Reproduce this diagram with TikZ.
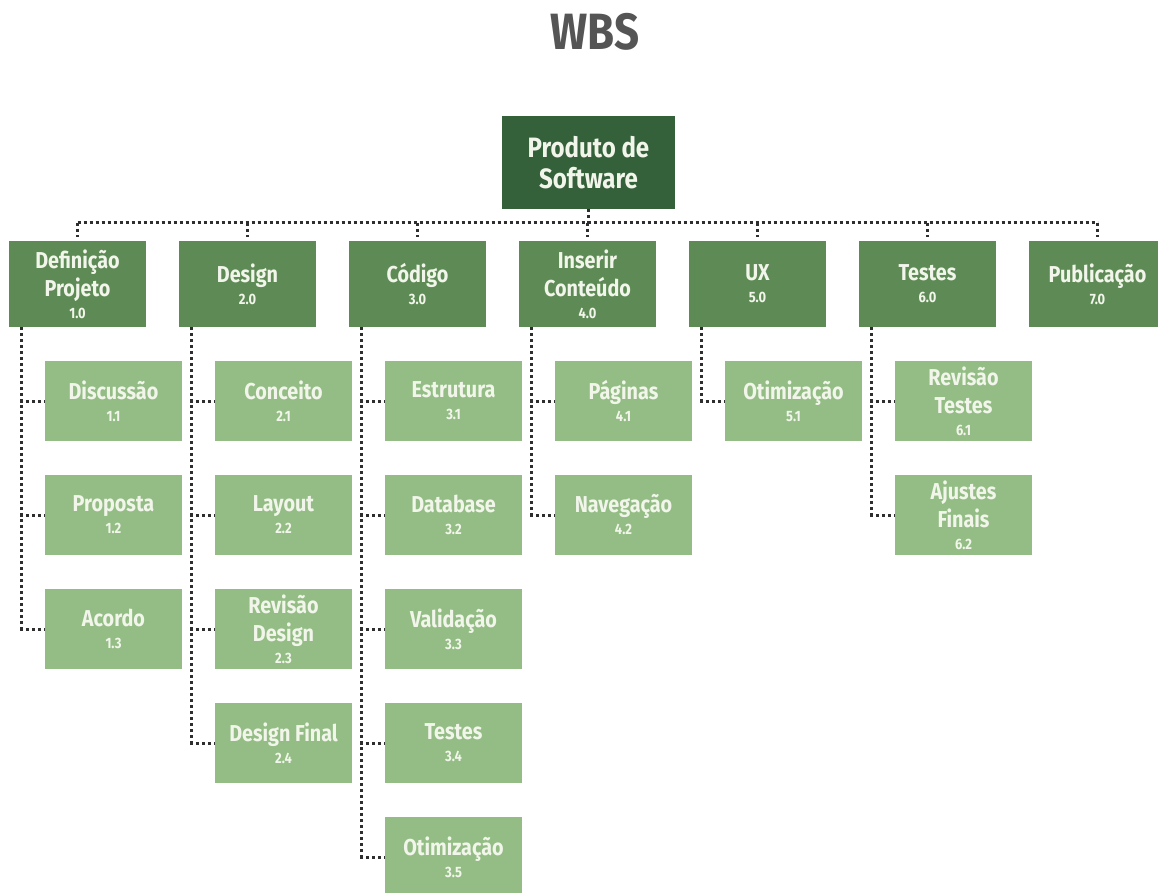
\documentclass[tikz,border=0pt]{standalone}
\usepackage{fontspec}
\setmainfont{Fira Sans}[FakeStretch=0.86]

\definecolor{rootgreen}{HTML}{34603A}
\definecolor{midgreen}{HTML}{5E8B55}
\definecolor{leafgreen}{HTML}{93BD85}
\definecolor{boxtext}{HTML}{F1F5EA}
\definecolor{dotgrey}{HTML}{2E2E2E}
\definecolor{titlegrey}{HTML}{555555}

% small code number under each work package name
\newcommand\wbsno[1]{{\fontsize{15}{15}\selectfont #1}}

\begin{document}
\begin{tikzpicture}[x=1pt,y=-1pt,
  box/.style={inner sep=0pt, align=center, text=boxtext,
    font=\bfseries\fontsize{23}{28}\selectfont},
  rootbox/.style={box, fill=rootgreen, minimum width=173pt, minimum height=93pt,
    font=\bfseries\fontsize{28}{31}\selectfont},
  phase/.style={box, fill=midgreen, minimum width=137pt, minimum height=86pt},
  task/.style={box, fill=leafgreen, minimum width=137pt, minimum height=80pt},
  conn/.style={draw=dotgrey, line width=3pt, dash pattern=on 3pt off 3pt},
  title/.style={text=titlegrey, font=\bfseries\fontsize{51}{51}\selectfont, anchor=base}]

\useasboundingbox (0,0) rectangle (1158,893);
\fill[white] (0,0) rectangle (1158,893);
\clip (0,0) rectangle (1158,893);

\node[title] (wbs) at (595,50) {WBS};

% root
\node[rootbox] (root) at (588.5,162.5) {Produto de\\Software};

% level 1
\node[phase] (p1) at (77.5,284)  {Definição\\Projeto\\[-6pt]\wbsno{1.0}};
\node[phase] (p2) at (247.5,284) {Design\\[-6pt]\wbsno{2.0}};
\node[phase] (p3) at (417.5,284) {Código\\[-6pt]\wbsno{3.0}};
\node[phase] (p4) at (587.5,284) {Inserir\\Conteúdo\\[-6pt]\wbsno{4.0}};
\node[phase] (p5) at (757.5,284) {UX\\[-6pt]\wbsno{5.0}};
\node[phase] (p6) at (927.5,284) {Testes\\[-6pt]\wbsno{6.0}};
\node[phase] (p7) at (1097.5,284) {Publicação\\[-6pt]\wbsno{7.0}};

% level 2
\node[task] (c11) at (113.5,401) {Discussão\\[-6pt]\wbsno{1.1}};
\node[task] (c12) at (113.5,515) {Proposta\\[-6pt]\wbsno{1.2}};
\node[task] (c13) at (113.5,629) {Acordo\\[-6pt]\wbsno{1.3}};

\node[task] (c21) at (283.5,401) {Conceito\\[-6pt]\wbsno{2.1}};
\node[task] (c22) at (283.5,515) {Layout\\[-6pt]\wbsno{2.2}};
\node[task] (c23) at (283.5,629) {Revisão\\Design\\[-6pt]\wbsno{2.3}};
\node[task] (c24) at (283.5,743) {Design Final\\[-6pt]\wbsno{2.4}};

\node[task] (c31) at (453.5,401) {Estrutura\\[-6pt]\wbsno{3.1}};
\node[task] (c32) at (453.5,515) {Database\\[-6pt]\wbsno{3.2}};
\node[task] (c33) at (453.5,629) {Validação\\[-6pt]\wbsno{3.3}};
\node[task] (c34) at (453.5,743) {Testes\\[-6pt]\wbsno{3.4}};
\node[task] (c35) at (453.5,857) {Otimização\\[-6pt]\wbsno{3.5}};

\node[task] (c41) at (623.5,401) {Páginas\\[-6pt]\wbsno{4.1}};
\node[task] (c42) at (623.5,515) {Navegação\\[-6pt]\wbsno{4.2}};

\node[task] (c51) at (793.5,401) {Otimização\\[-6pt]\wbsno{5.1}};

\node[task] (c61) at (963.5,401) {Revisão\\Testes\\[-6pt]\wbsno{6.1}};
\node[task] (c62) at (963.5,515) {Ajustes\\Finais\\[-6pt]\wbsno{6.2}};

% bus from the root to the phases
\coordinate (bus) at (588.5,223);
\draw[conn] (root.south) -- (root.south |- bus);
\draw[conn] (p1.north |- bus) -- (p7.north |- bus);
\foreach \p in {p1,p2,p3,p4,p5,p6,p7}
  \draw[conn] (\p.north |- bus) -- ([yshift=4pt]\p.north);

% phase to task connectors
\foreach \p/\c in {p1/c11,p1/c12,p1/c13,
                   p2/c21,p2/c22,p2/c23,p2/c24,
                   p3/c31,p3/c32,p3/c33,p3/c34,p3/c35,
                   p4/c41,p4/c42,
                   p5/c51,
                   p6/c61,p6/c62}
  \draw[conn] ([xshift=13pt]\p.south west) |- (\c.west);
\end{tikzpicture}
\end{document}
